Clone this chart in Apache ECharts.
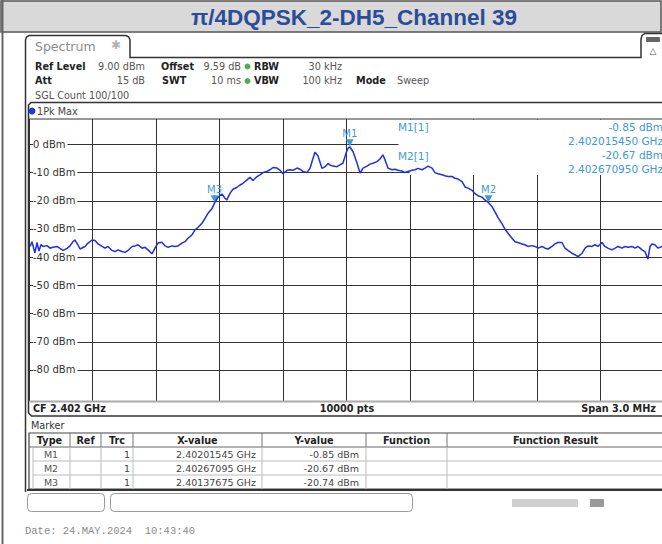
<!DOCTYPE html>
<html><head><meta charset="utf-8">
<script src="https://cdn.jsdelivr.net/npm/echarts@6/dist/echarts.min.js"></script>
<style>html,body{margin:0;padding:0;background:#fff}#c{width:662px;height:544px}</style>
</head><body><div id="c"></div>
<script>
// ---------- data ----------
const titleText = 'π/4DQPSK_2-DH5_Channel 39';
const centerFreqGHz = 2.402;
const spanKHz = 3000;
const xDivKHz = 300;
const refLevelDbm = 9;
const bottomLevelDbm = -91;
const yTickValues = [0, -10, -20, -30, -40, -50, -60, -70, -80];
const yTickLabels = ['0 dBm', '-10 dBm', '-20 dBm', '-30 dBm', '-40 dBm', '-50 dBm', '-60 dBm', '-70 dBm', '-80 dBm'];

const traceFreqGHz = [
 2.400505,2.400514,2.400528,2.400538,2.400547,2.400557,2.400566,2.400585,2.400599,2.400613,
 2.400632,2.400646,2.400661,2.400680,2.400694,2.400708,2.400717,2.400731,2.400741,2.400765,
 2.400779,2.400798,2.400812,2.400826,2.400845,2.400859,2.400873,2.400892,2.400906,2.400920,
 2.400939,2.400954,2.400968,2.400987,2.401001,2.401015,2.401034,2.401048,2.401062,2.401081,
 2.401095,2.401109,2.401128,2.401143,2.401157,2.401176,2.401190,2.401204,2.401223,2.401237,
 2.401251,2.401270,2.401284,2.401298,2.401317,2.401332,2.401346,2.401365,2.401377,2.401393,
 2.401412,2.401426,2.401435,2.401450,2.401464,2.401483,2.401497,2.401511,2.401530,2.401544,
 2.401558,2.401577,2.401591,2.401606,2.401624,2.401639,2.401653,2.401672,2.401686,2.401700,
 2.401719,2.401733,2.401747,2.401766,2.401780,2.401794,2.401813,2.401828,2.401842,2.401851,
 2.401865,2.401884,2.401898,2.401913,2.401922,2.401936,2.401955,2.401969,2.401983,2.401998,
 2.402007,2.4020155,2.402031,2.402050,2.402064,2.402078,2.402097,2.402111,2.402125,2.402144,
 2.402158,2.402172,2.402182,2.402196,2.402215,2.402229,2.402243,2.402262,2.402276,2.402291,
 2.402309,2.402324,2.402338,2.402357,2.402371,2.402385,2.402404,2.402418,2.402432,2.402451,
 2.402465,2.402480,2.402498,2.402513,2.402527,2.402546,2.402560,2.402574,2.402593,2.402607,
 2.402621,2.402640,2.402654,2.402671,2.402687,2.402702,2.402716,2.402735,2.402749,2.402763,
 2.402782,2.402796,2.402810,2.402829,2.402843,2.402857,2.402876,2.402891,2.402905,2.402924,
 2.402938,2.402952,2.402971,2.402985,2.402999,2.403018,2.403032,2.403046,2.403065,2.403080,
 2.403094,2.403113,2.403127,2.403141,2.403160,2.403174,2.403188,2.403207,2.403221,2.403235,
 2.403254,2.403269,2.403283,2.403302,2.403316,2.403330,2.403349,2.403363,2.403377,2.403387,
 2.403396,2.403410,2.403424,2.403434,2.403443,2.403457,2.403472,2.403491
];
const traceLevelDbm = [
 -36.2,-34.5,-38.5,-34.8,-37.8,-35.5,-36.2,-35.9,-36.8,-36.5,
 -36.2,-36.9,-37.6,-36.9,-36.0,-34.5,-33.9,-35.6,-37.1,-36.2,
 -35.0,-33.9,-34.1,-35.3,-36.2,-36.8,-36.2,-37.6,-38.0,-37.4,
 -38.0,-38.3,-37.6,-36.2,-36.0,-35.6,-36.8,-36.5,-37.4,-38.8,
 -36.8,-35.0,-34.7,-36.0,-36.5,-36.0,-36.2,-36.0,-35.0,-34.5,
 -33.3,-32.1,-30.3,-29.5,-28.0,-26.2,-24.4,-22.7,-20.74,-18.8,
 -17.6,-19.1,-19.7,-17.3,-15.9,-15.2,-14.4,-13.8,-12.6,-11.7,
 -12.8,-11.4,-10.8,-10.0,-9.6,-9.0,-8.2,-8.4,-9.2,-10.4,
 -9.2,-9.0,-9.2,-8.4,-8.8,-9.6,-10.0,-8.4,-4.9,-2.8,
 -4.0,-8.5,-8.0,-6.8,-7.3,-7.7,-7.9,-7.3,-6.7,-3.1,
 -1.4,-0.85,-2.6,-6.7,-10.2,-8.4,-7.7,-7.0,-6.7,-6.1,
 -5.2,-3.7,-5.5,-8.4,-9.0,-8.8,-9.2,-9.4,-10.0,-9.6,
 -9.2,-9.0,-8.5,-9.0,-8.4,-7.7,-8.4,-10.0,-10.4,-10.8,
 -11.1,-11.4,-11.4,-12.0,-12.3,-13.2,-15.1,-15.5,-16.3,-17.5,
 -18.2,-18.7,-19.7,-20.67,-22.0,-24.0,-26.0,-28.2,-30.1,-31.5,
 -33.3,-34.5,-34.8,-35.3,-35.6,-36.2,-35.9,-36.2,-36.8,-36.2,
 -36.8,-37.1,-36.2,-35.3,-34.8,-34.8,-36.8,-37.6,-38.6,-39.2,
 -39.8,-38.6,-36.8,-36.0,-36.2,-35.6,-36.2,-34.8,-36.2,-36.8,
 -37.4,-36.8,-36.2,-36.8,-36.2,-36.5,-36.2,-36.8,-36.2,-36.8,
 -37.4,-38.0,-40.7,-36.2,-35.3,-35.6,-36.8,-36.2
];

const markerNames = ['M1', 'M2', 'M3'];
const markerFreqGHz = [2.40201545, 2.40267095, 2.40137675];
const markerLevelDbm = [-0.85, -20.67, -20.74];
const markerXText = ['2.40201545 GHz', '2.40267095 GHz', '2.40137675 GHz'];
const markerYText = ['-0.85 dBm', '-20.67 dBm', '-20.74 dBm'];
const markerInfo = [
  ['M1[1]', '-0.85 dBm', '2.402015450 GHz'],
  ['M2[1]', '-20.67 dBm', '2.402670950 GHz']
];
const tableHeaders = ['Type', 'Ref', 'Trc', 'X-value', 'Y-value', 'Function', 'Function Result'];
const traceNumber = '1';
const dateText = 'Date: 24.MAY.2024  10:43:40';

// ---------- layout helpers ----------
const FF = '"DejaVu Sans", Verdana, sans-serif';
const toKHz = f => (f - centerFreqGHz) * 1e6;
const els = [];
function T(text, x, y, o) {
  o = o || {};
  els.push({type: 'text', x: x, y: y, z: o.z || 10, silent: true,
    style: {text: text, font: (o.bold ? 'bold ' : '') + (o.size || 10) + 'px ' + (o.family || FF),
      fill: o.color || '#222', align: o.align || 'left', textAlign: o.align || 'left',
      verticalAlign: 'middle', textVerticalAlign: 'middle'}});
}
function L(x1, y1, x2, y2, c, w, z) {
  els.push({type: 'line', z: z || 10, silent: true, shape: {x1: x1, y1: y1, x2: x2, y2: y2},
    style: {stroke: c || '#333', lineWidth: w || 1}});
}
function P(points, c, w, z) {
  els.push({type: 'polyline', z: z || 10, silent: true, shape: {points: points},
    style: {stroke: c || '#333', lineWidth: w || 1, fill: null}});
}
function R(x, y, w, h, fill, stroke, lw, r, z) {
  els.push({type: 'rect', z: z || 10, silent: true, shape: {x: x, y: y, width: w, height: h, r: r || 0},
    style: {fill: fill || 'none', stroke: stroke || 'none', lineWidth: lw || 1}});
}
function C(cx, cy, r, fill, z) {
  els.push({type: 'circle', z: z || 10, silent: true, shape: {cx: cx, cy: cy, r: r}, style: {fill: fill}});
}

// title band
R(1, 1, 660, 31, '#d9d9d9', '#555', 1.5, 0, 10);
T(titleText, 354, 17, {size: 22.5, bold: true, color: '#2b4d97', align: 'center', family: '"Liberation Sans", Arial, sans-serif'});
// outer page left border
L(2.5, 0, 2.5, 544, '#666', 2, 10);

// Spectrum tab
P([[25.5, 492], [25.5, 40], [26.5, 37], [29, 35.5], [126, 35.5], [128.8, 37], [130, 40], [130, 57.5], [641, 57.5], [641, 39], [642, 35.5], [645, 33.5], [664, 33.5]], '#333', 1.5);
T('Spectrum', 35, 46, {size: 12.5, color: '#8a8a8a'});
T('\u2731', 116, 45, {size: 12, color: '#b0b0b0', align: 'center'});
R(646, 37, 14, 5, '#666', null, 1, 1, 11);
T('\u25b3', 653, 51, {size: 9, color: '#555', align: 'center'});

// settings text
T('Ref Level', 35, 66, {bold: true, size: 9.7});
T('9.00 dBm', 145, 66, {size: 9.7, color: '#555', align: 'right'});
T('Offset', 161, 66, {bold: true, size: 9.7});
T('9.59 dB', 241, 66, {size: 9.7, color: '#555', align: 'right'});
C(247.5, 66.5, 3, '#4cae4c');
T('RBW', 254, 66, {bold: true, size: 9.7});
T('30 kHz', 342, 66, {size: 9.7, color: '#555', align: 'right'});
T('Att', 35, 80.5, {bold: true, size: 9.7});
T('15 dB', 145, 80.5, {size: 9.7, color: '#555', align: 'right'});
T('SWT', 162, 80.5, {bold: true, size: 9.7});
T('10 ms', 241, 80.5, {size: 9.7, color: '#555', align: 'right'});
C(247.5, 81, 3, '#4cae4c');
T('VBW', 254, 80.5, {bold: true, size: 9.7});
T('100 kHz', 342, 80.5, {size: 9.7, color: '#555', align: 'right'});
T('Mode', 356, 80.5, {bold: true, size: 9.7});
T('Sweep', 397, 80.5, {size: 9.7, color: '#555'});
T('SGL Count 100/100', 35, 95, {size: 9.7, color: '#555'});

// trace window frame
P([[664, 102.5], [31, 102.5], [28.5, 105], [28.5, 413], [31.5, 416], [664, 416]], '#333', 1.6);
C(32, 111, 3.5, '#2a35d8');
T('1Pk Max', 37, 111, {size: 9.7, color: '#444'});
L(29, 119, 664, 119, '#333', 1, 10);
L(29, 401.5, 664, 401.5, '#aaa', 2, 10);
T('CF 2.402 GHz', 33, 408.5, {bold: true, size: 9.7});
T('10000 pts', 347, 408.5, {bold: true, size: 9.7, align: 'center'});
T('Span 3.0 MHz', 656, 408.5, {bold: true, size: 9.7, align: 'right'});

// marker info box (covers grid, under trace)
R(398.5, 119.5, 266, 40, '#fff', null, 1, 0, 1);
R(409.6, 159, 255, 16, '#fff', null, 1, 0, 1);
markerInfo.forEach((m, i) => {
  const y0 = 127 + i * 28.5;
  T(m[0], 398, y0, {size: 10.5, color: '#3d9ad4'});
  T(m[1], 663, y0 - 0.5, {size: 10.5, color: '#3d9ad4', align: 'right'});
  T(m[2], 663, y0 + 13.5, {size: 10.5, color: '#3d9ad4', align: 'right'});
});

// marker table
T('Marker', 31, 425, {size: 9.7, color: '#333'});
const colEdges = [29, 70, 101, 133, 262, 366, 447, 664];
const rowEdges = [433, 447, 461, 475, 489];
R(29, 433, 636, 56, '#fff', '#444', 1.2, 0, 9);
for (let r = 2; r < rowEdges.length - 1; r++) L(33, rowEdges[r], 664, rowEdges[r], '#bbb', 1, 10);
L(29, 447, 664, 447, '#666', 1, 10);
colEdges.slice(1, -1).forEach(x => {
  L(x, 433, x, 447, '#777', 1, 10);
  L(x, 447, x, 489, '#bbb', 1, 10);
});
L(33, 447, 33, 489, '#bbb', 1, 10);
L(27, 490, 664, 490, '#333', 2, 10);
tableHeaders.forEach((h, i) => T(h, (colEdges[i] + colEdges[i + 1]) / 2, 440, {bold: true, size: 9.7, align: 'center'}));
markerNames.forEach((n, i) => {
  const y = 454 + i * 14;
  T(n, 51, y, {size: 9.5, color: '#555', align: 'center'});
  T(traceNumber, 130, y, {size: 9.5, color: '#444', align: 'right'});
  T(markerXText[i], 256, y, {size: 9.5, color: '#444', align: 'right'});
  T(markerYText[i], 359, y, {size: 9.5, color: '#444', align: 'right'});
});

// status bar
R(27.5, 493.5, 77, 18, '#fff', '#999', 1, 4, 10);
R(110.5, 493.5, 302, 18, '#fff', '#999', 1, 4, 10);
R(512, 499, 66, 8, '#cfcfcf', null, 1, 0, 10);
R(590, 499, 14, 8, '#9a9a9a', null, 1, 1, 10);
T(dateText, 25, 531, {size: 10.5, color: '#8a8a8a', family: '"Liberation Mono", "DejaVu Sans Mono", monospace'});

// ---------- chart ----------
const chart = echarts.init(document.getElementById('c'), null, {renderer: 'svg', width: 662, height: 544});
const traceData = traceFreqGHz.map((f, i) => [toKHz(f), traceLevelDbm[i]]);
chart.setOption({
  animation: false,
  backgroundColor: '#fff',
  grid: {left: 29, top: 119, width: 635, height: 282, containLabel: false, outerBoundsMode: 'none', show: false},
  xAxis: {type: 'value', min: -spanKHz / 2, max: spanKHz / 2, interval: xDivKHz,
    axisLine: {show: false}, axisTick: {show: false}, axisLabel: {show: false},
    splitLine: {show: true, lineStyle: {color: '#333', width: 1}}},
  yAxis: {type: 'value', min: bottomLevelDbm, max: refLevelDbm,
    axisLine: {show: false},
    axisTick: {show: false, customValues: yTickValues},
    axisLabel: {show: true, inside: true, margin: 4, customValues: yTickValues,
      formatter: v => yTickLabels[yTickValues.indexOf(v)] || '',
      color: '#333', fontSize: 10, fontFamily: FF, backgroundColor: '#fff', padding: [1, 2, 1, 0]},
    splitLine: {show: true, lineStyle: {color: '#333', width: 1}}},
  graphic: {elements: els},
  series: [{
    type: 'line', data: traceData, showSymbol: false, symbol: 'none', z: 5,
    lineStyle: {color: '#1e2fe6', width: 1.5}, clip: true,
    markPoint: {
      symbol: 'triangle', symbolRotate: 180, symbolSize: [8, 7], symbolOffset: [0, -4],
      itemStyle: {color: '#3d9ad4'},
      label: {show: true, position: 'top', distance: 1, formatter: '{b}', color: '#3d9ad4', fontSize: 10, fontFamily: FF},
      data: markerNames.map((n, i) => ({name: n, coord: [toKHz(markerFreqGHz[i]), markerLevelDbm[i]]}))
    }
  }]
});
</script></body></html>
